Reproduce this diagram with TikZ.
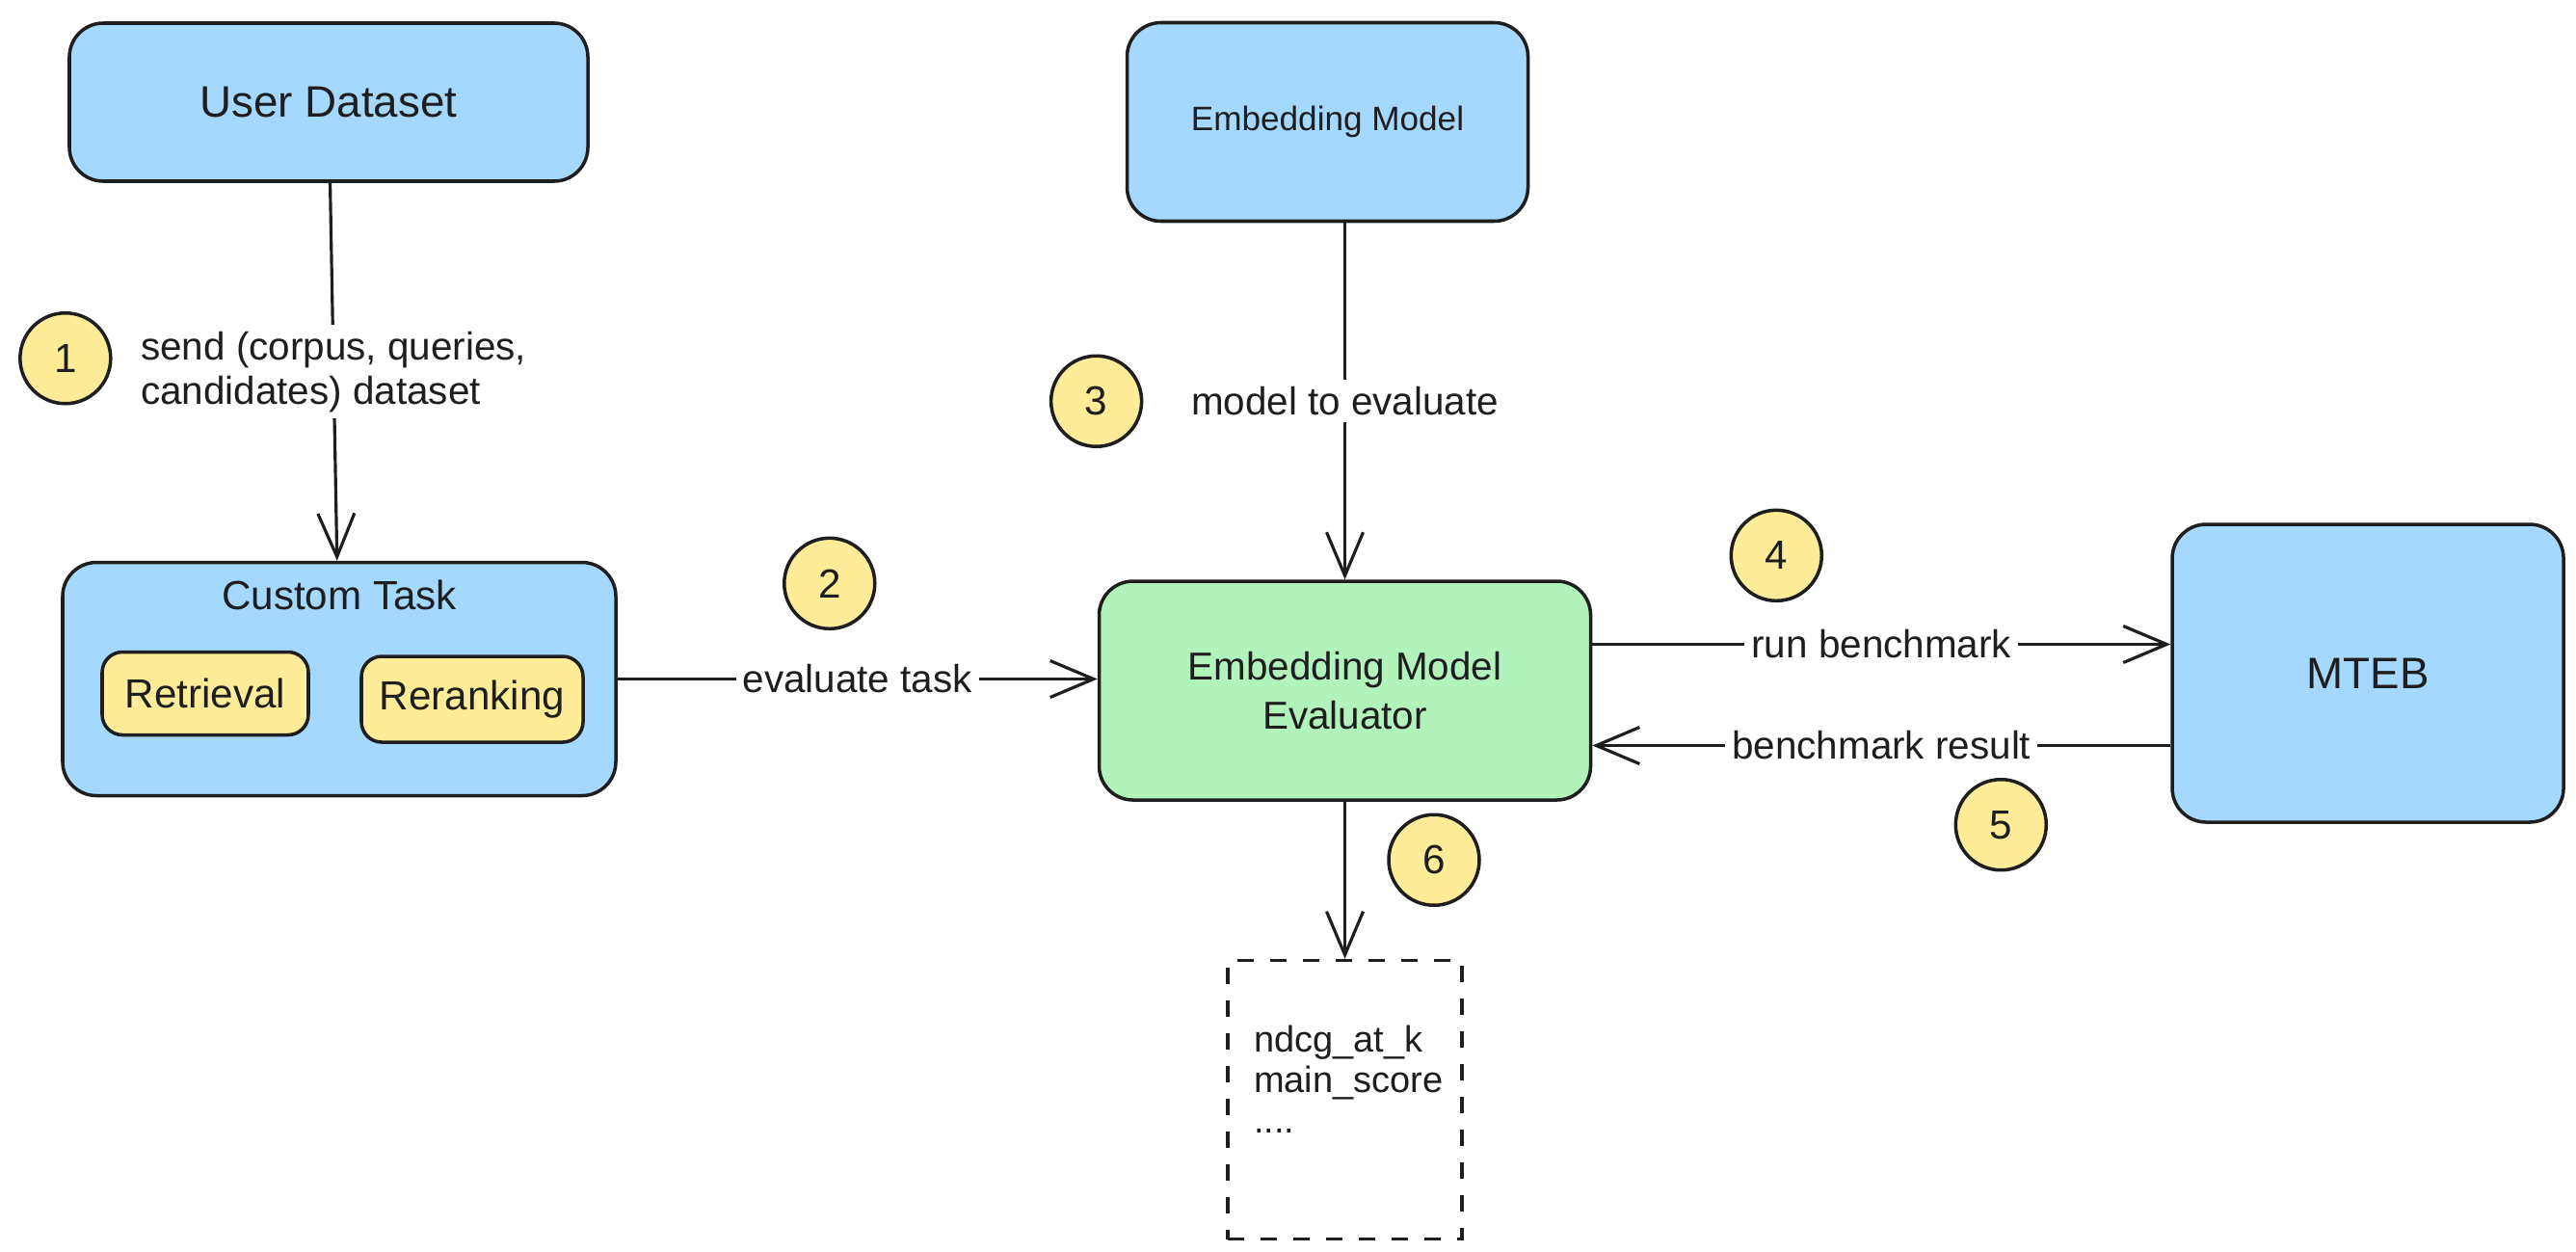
\documentclass[tikz,border=0pt]{standalone}
\usepackage{fontspec}
\setmainfont{Liberation Sans}
\usetikzlibrary{arrows.meta,positioning}
\definecolor{boxblue}{HTML}{A5D8FF}
\definecolor{boxgreen}{HTML}{B2F2BB}
\definecolor{boxyellow}{HTML}{FFEC99}
\definecolor{inkline}{HTML}{1E1E1E}
\tikzset{
  flow/.style={-{Straight Barb[length=4.5mm,width=3.8mm]},line width=0.9pt,draw=inkline},
  box/.style={rounded corners=10pt,draw=inkline,line width=1pt,align=center,text=inkline,font=\fontsize{12}{14.5}\selectfont},
  source/.style={box,fill=boxblue},
  engine/.style={box,fill=boxgreen},
  chip/.style={box,fill=boxyellow,rounded corners=6pt},
  stepmark/.style={circle,draw=inkline,line width=1pt,fill=boxyellow,minimum size=9.4mm,inner sep=0pt,text=inkline,font=\fontsize{12}{14}\selectfont},
  tag/.style={fill=white,text=inkline,inner sep=2pt,font=\fontsize{11.5}{13}\selectfont},
  result/.style={draw=inkline,line width=1pt,dash pattern=on 1.7mm off 1.7mm,minimum height=28.9mm,text width=18.9mm,inner xsep=2.7mm,align=left,text=inkline,font=\fontsize{10.8}{12}\selectfont}
}

\begin{document}
\begin{tikzpicture}
  \fill[white] (0,0) rectangle (26.73,-12.99);
  \useasboundingbox (0,0) rectangle (26.73,-12.99);

  \node[source,minimum width=53.8mm,minimum height=16.4mm,font=\fontsize{13}{15}\selectfont] (data) at (3.41,-1.06) {User Dataset};
  \node[source,minimum width=57.4mm,minimum height=24.2mm,below=39.2mm of data,xshift=1.1mm] (task) {};
  \node[below=0.8mm of task.north,text=inkline,font=\fontsize{12}{14}\selectfont] (tasktitle) {Custom Task};
  \node[chip,minimum width=21.4mm,minimum height=8.6mm] (retrieval) at ([shift={(-1.39,-0.15)}]task.center) {Retrieval};
  \node[chip,minimum width=23mm,minimum height=8.9mm] (reranking) at ([shift={(1.38,-0.21)}]task.center) {Reranking};
  \node[engine,minimum width=51mm,minimum height=22.7mm,right=49.8mm of task,yshift=-1.2mm,font=\fontsize{11.5}{14.5}\selectfont] (eval) {Embedding Model\\Evaluator};
  \node[source,minimum width=41.6mm,minimum height=20.6mm,above=37mm of eval,xshift=-1.8mm,font=\fontsize{10}{12}\selectfont] (model) {Embedding Model};
  \node[source,minimum width=40.6mm,minimum height=30.9mm,right=60mm of eval,yshift=1.8mm,font=\fontsize{13}{15}\selectfont] (mteb) {MTEB};
  \node[result,below=16.3mm of eval] (scores) {ndcg\_at\_k\\main\_score\\....\\\mbox{}};

  \draw[flow] (data) -- (task) node[tag,midway,align=left] (sendtag) {send (corpus, queries,\\candidates) dataset};
  \draw[flow] (model.south -| eval.north) -- (eval.north) node[tag,midway] (modeltag) {model to evaluate};
  \draw[flow] (task.east) -- (task.east -| eval.west) node[tag,midway] (tasktag) {evaluate task};
  \coordinate (runstart) at ([yshift=4.8mm]eval.east);
  \coordinate (resultend) at ([yshift=-5.7mm]eval.east);
  \draw[flow] (runstart) -- (runstart -| mteb.west) node[tag,midway] (runtag) {run benchmark};
  \draw[flow] (resultend -| mteb.west) -- (resultend) node[tag,midway] (resulttag) {benchmark result};
  \draw[flow] (eval) -- (scores);

  \node[stepmark,left=2.1mm of sendtag,yshift=1.4mm] (stepa) {1};
  \node[stepmark,above=2.7mm of tasktag,xshift=-2.9mm] (stepb) {2};
  \node[stepmark,left=4.1mm of modeltag] (stepc) {3};
  \node[stepmark,above=2mm of runtag,xshift=-10.9mm] (stepd) {4};
  \node[stepmark,below=1mm of resulttag,xshift=12.4mm] (stepe) {5};
  \node[stepmark,below right=2.6mm and 5.8mm of eval.south] (stepf) {6};
\end{tikzpicture}
\end{document}
